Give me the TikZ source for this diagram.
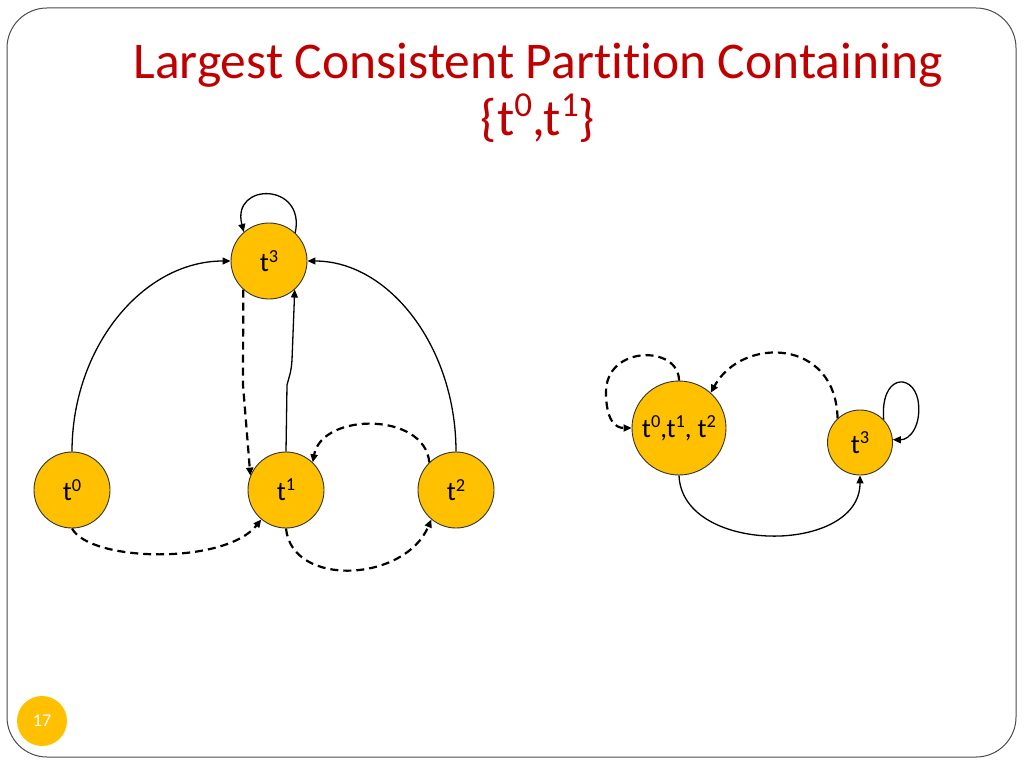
\documentclass[tikz,border=0pt]{standalone}
\usepackage{fontspec}
\setmainfont[Ligatures=NoCommon]{Carlito}
\usetikzlibrary{arrows.meta}
\definecolor{gold}{HTML}{FFC000}
\definecolor{titlered}{HTML}{C00000}
\newcommand\supx[1]{\raisebox{0.75ex}{\scalebox{0.68}{#1}}}
\tikzset{
  state/.style={circle, draw=black!80, line width=0.9pt, fill=gold, inner sep=0pt, font=\fontsize{27}{30}\selectfont},
  sol/.style={line width=1.3pt, -{Triangle[length=8pt,width=7pt]}},
  dsh/.style={line width=2.2pt, dash pattern=on 8pt off 5pt, -{Triangle[length=8pt,width=7pt]}},
}
\begin{document}
\begin{tikzpicture}[x=1pt,y=-1pt]
\useasboundingbox (0,0) rectangle (1024,768);
\draw[black!70, line width=1pt, rounded corners=40pt] (7,8) rectangle (1016,757);
% title
\node[anchor=base, text=titlered, font=\fontsize{51.5}{56}\selectfont] (title1) at (538,78) {Largest Consistent Partition Containing};
\node[anchor=base, text=titlered, font=\fontsize{51.5}{56}\selectfont] (title2) at (538,135) {\{t\supx{0},t\supx{1}\}};
% left graph
\node[state, minimum size=76pt] (t3) at (269,261) {t\supx{3}};
\node[state, minimum size=76pt] (t0) at (72,490) {t\supx{0}};
\node[state, minimum size=76pt] (t1) at (286,490) {t\supx{1}};
\node[state, minimum size=76pt] (t2) at (456,490) {t\supx{2}};
\draw[sol] (t0.north) .. controls (72,347) and (143,261) .. (t3.west);
\draw[sol] (t2.north) .. controls (456,347) and (389,261) .. (t3.east);
\draw[sol] (t1.north) -- (287,385) .. controls (291,370) and (291,372) .. (292,360) -- (t3.-48);
\draw[dsh] (t3.-132) -- (243,385) -- (t1.158);
\draw[sol] (t3.47) .. controls (306,182) and (231,182) .. (t3.131);
\draw[dsh] (t0.south) .. controls (90,562) and (225,565) .. (t1.-130);
\draw[dsh] (t1.south) .. controls (292,588) and (405,582) .. (t2.-130);
\draw[dsh] (t2.134) .. controls (425,412) and (322,412) .. (t1.46);
% right graph
\node[state, minimum size=94pt] (B) at (679,428) {t\supx{0},t\supx{1}, t\supx{2}};
\node[state, minimum size=65pt] (S) at (860,442.5) {t\supx{3}};
\draw[dsh] (B.north) .. controls (679,345) and (606,345) .. (606,392) .. controls (606,420) and (615,428) .. (B.west);
\draw[dsh] (S.133) .. controls (836,338) and (742,336) .. (B.48);
\draw[sol] (B.south) .. controls (682,555) and (860,555) .. (S.south);
\draw[sol] (S.44) .. controls (880,375) and (912,372) .. (918,400) .. controls (922,425) and (910,440) .. (S.5);
% page number
\node[circle, fill=gold, minimum size=50pt, inner sep=0pt, text=white, font=\fontsize{18}{20}\selectfont] (pg) at (42,721) {17};
\end{tikzpicture}
\end{document}
